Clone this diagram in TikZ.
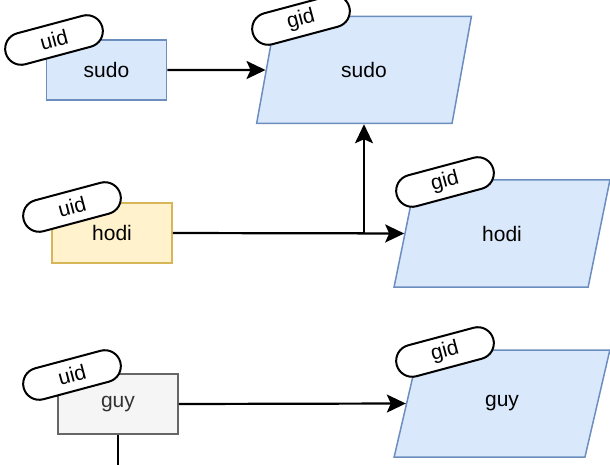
\documentclass[tikz,border=0pt]{standalone}
\usepackage{fontspec}
\setmainfont{Liberation Sans}
\usetikzlibrary{shapes.geometric, positioning, arrows.meta}

\definecolor{bluefill}{HTML}{DAE8FC}
\definecolor{blueline}{HTML}{6C8EBF}
\definecolor{yellowfill}{HTML}{FFF2CC}
\definecolor{yellowline}{HTML}{D6B656}
\definecolor{grayfill}{HTML}{F5F5F5}
\definecolor{grayline}{HTML}{666666}
\definecolor{graytext}{HTML}{333333}

\tikzset{link/.style={-{Stealth[length=19pt,width=18pt,inset=4pt]},line width=2.2pt}}

\begin{document}
\begin{tikzpicture}[x=1pt, y=-1pt, font=\fontsize{21}{25}\selectfont]
    \tikzstyle{userbox} = [rectangle,minimum width=120pt,minimum height=60pt,inner sep=0pt,line width=1.5pt,text centered]
    \tikzstyle{groupbox} = [trapezium,trapezium left angle=72,trapezium right angle=108,trapezium stretches=true,minimum width=216pt,minimum height=107pt,inner sep=0pt,draw=blueline,fill=bluefill,line width=1.5pt]
    \tikzstyle{idtag} = [rectangle,rounded corners=16pt,minimum width=100pt,minimum height=32pt,inner sep=0pt,draw=black,fill=white,line width=2pt,rotate=15]

    \useasboundingbox (0,0) rectangle (610,465);

    \node (sudo) [userbox, draw=blueline, fill=bluefill] at (106.5,70) {sudo};
    \node (hodi) [userbox, draw=yellowline, fill=yellowfill] at (112,233) {hodi};
    \node (guy) [userbox, draw=grayline, fill=grayfill, text=graytext] at (118,404) {guy};

    \node (gsudo) [groupbox] at (364,70) {sudo};
    \node (ghodi) [groupbox] at (502,233.5) {hodi};
    \node (gguy) [groupbox] at (502,403.5) {guy};

    \node (usudo) [idtag] at (54,40) {uid};
    \node (uhodi) [idtag] at (72,207) {uid};
    \node (uguy) [idtag] at (72,375) {uid};

    \node (tsudo) [idtag] at (301,20) {gid};
    \node (thodi) [idtag] at (445,182) {gid};
    \node (tguy) [idtag] at (445,352) {gid};

    \coordinate (out) at (118,465);

    \draw [link] (sudo.east) -- (gsudo.west);
    \draw [link] (hodi.east) -- (ghodi.west);
    \draw [link] (hodi.east) -| (gsudo.south);
    \draw [link] (guy.east) -- (gguy.west);
    \draw [line width=2.2pt] (guy.south) -- (out);
\end{tikzpicture}
\end{document}
